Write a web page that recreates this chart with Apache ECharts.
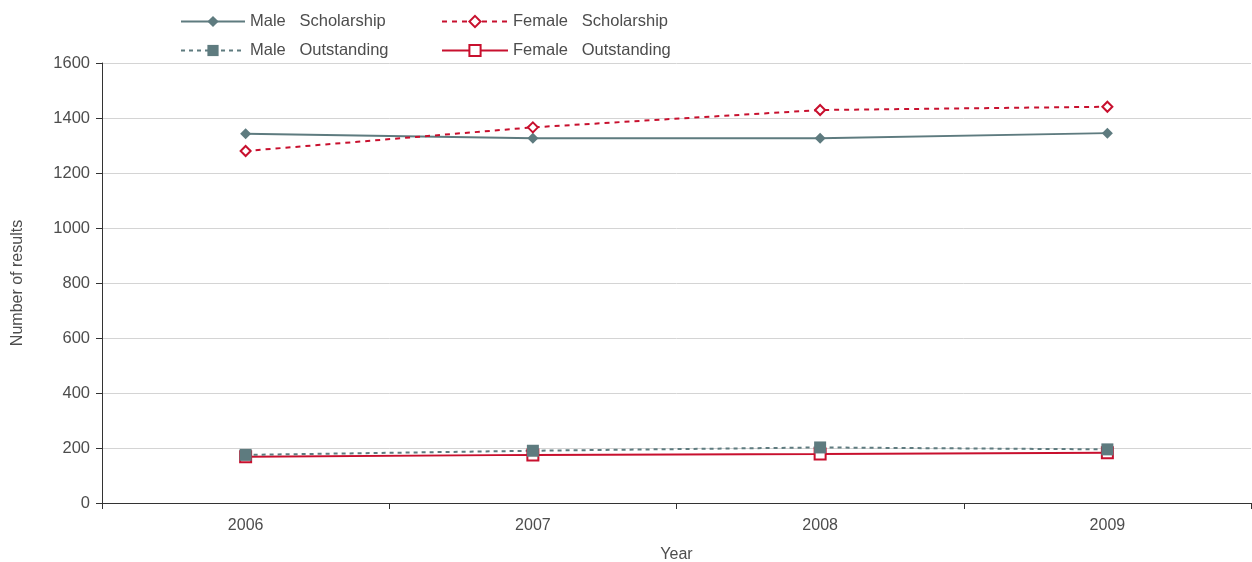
<!DOCTYPE html>
<html>
<head>
<meta charset="utf-8">
<script src="https://cdn.jsdelivr.net/npm/echarts@6/dist/echarts.min.js"></script>
<style>
  html, body { margin: 0; padding: 0; background: #fff; }
  #chart { width: 1252px; height: 562px; }
</style>
</head>
<body>
<div id="chart"></div>
<script>
// Results by year, split by gender and award level
const years = ['2006', '2007', '2008', '2009'];
const maleScholarship = [1343, 1326, 1326, 1345];
const femaleScholarship = [1280, 1366, 1429, 1441];
const maleOutstanding = [175, 190, 202, 195];
const femaleOutstanding = [168, 175, 178, 183];
const yTicks = { min: 0, max: 1600, interval: 200 };

const GREY = '#5e7b7f';
const RED = '#c8102e';
const TEXT = '#4d4d4d';
const FONT = '"Liberation Sans", Arial, sans-serif';

const chart = echarts.init(document.getElementById('chart'), null, { renderer: 'canvas' });

const legendText = { color: TEXT, fontSize: 16.5, fontFamily: FONT };

chart.setOption({
  animation: false,
  textStyle: { fontFamily: FONT },
  legend: [
    {
      left: 175, top: 8, orient: 'vertical', itemGap: 12,
      itemWidth: 64, itemHeight: 14,
      textStyle: legendText,
      data: ['Male   Scholarship', 'Male   Outstanding']
    },
    {
      left: 436, top: 8, orient: 'vertical', itemGap: 12,
      itemWidth: 66, itemHeight: 14,
      textStyle: legendText,
      data: ['Female   Scholarship', 'Female   Outstanding']
    }
  ],
  grid: { left: 102, right: 1, top: 63, bottom: 59, containLabel: false, outerBoundsMode: 'none' },
  xAxis: {
    type: 'category',
    data: years,
    boundaryGap: true,
    name: 'Year',
    nameLocation: 'middle',
    nameGap: 44,
    nameTextStyle: { color: TEXT, fontSize: 16 },
    axisLine: { lineStyle: { color: '#333', width: 1 } },
    axisTick: { show: true, length: 6, lineStyle: { color: '#333' } },
    axisLabel: { color: TEXT, fontSize: 16, margin: 15 }
  },
  yAxis: {
    type: 'value',
    min: yTicks.min, max: yTicks.max, interval: yTicks.interval,
    name: 'Number of results',
    nameLocation: 'middle',
    nameGap: 76,
    nameTextStyle: { color: TEXT, fontSize: 16 },
    axisLine: { show: true, lineStyle: { color: '#333', width: 1 } },
    axisTick: { show: true, length: 6, lineStyle: { color: '#333' } },
    axisLabel: { color: TEXT, fontSize: 16.5, margin: 12, formatter: (v) => String(v) },
    splitLine: { lineStyle: { color: '#d4d4d4', width: 1 } }
  },
  series: [
    {
      name: 'Male   Scholarship', type: 'line', data: maleScholarship,
      symbol: 'diamond', symbolSize: 11,
      itemStyle: { color: GREY },
      lineStyle: { color: GREY, width: 2, type: 'solid' }
    },
    {
      name: 'Female   Scholarship', type: 'line', data: femaleScholarship,
      symbol: 'diamond', symbolSize: 10,
      itemStyle: { color: '#fff', borderColor: RED, borderWidth: 2 },
      lineStyle: { color: RED, width: 2, type: [5, 5] }
    },
    {
      name: 'Female   Outstanding', type: 'line', data: femaleOutstanding,
      symbol: 'rect', symbolSize: 11,
      itemStyle: { color: '#fff', borderColor: RED, borderWidth: 2 },
      lineStyle: { color: RED, width: 2, type: 'solid' }
    },
    {
      name: 'Male   Outstanding', type: 'line', data: maleOutstanding,
      symbol: 'rect', symbolSize: 12,
      itemStyle: { color: GREY },
      lineStyle: { color: GREY, width: 2, type: [4, 4] }
    }
  ]
});
</script>
</body>
</html>
